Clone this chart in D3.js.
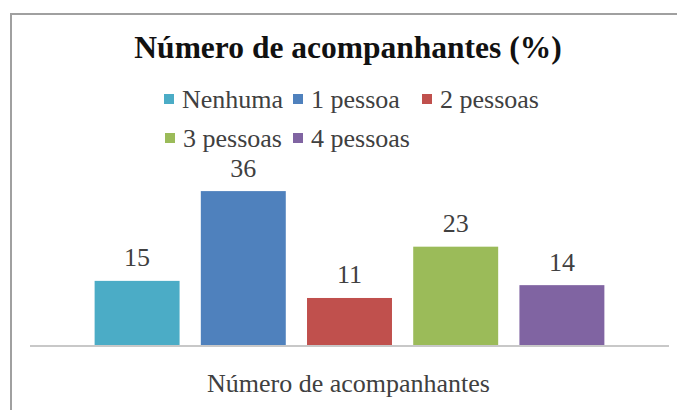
<!DOCTYPE html>
<html>
<head>
<meta charset="utf-8">
<script src="https://cdn.jsdelivr.net/npm/d3@7"></script>
<style>
  html, body { margin: 0; background: #fff; overflow: hidden; }
  svg { display: block; }
</style>
</head>
<body>
<div id="chart"></div>
<script>
const categories = ["Nenhuma", "1 pessoa", "2 pessoas", "3 pessoas", "4 pessoas"];
const values = [15, 36, 11, 23, 14];
const colors = ["#4BACC6", "#4F81BD", "#C0504D", "#9BBB59", "#8064A2"];
const titleText = "Número de acompanhantes (%)";
const axisTitle = "Número de acompanhantes";

const W = 677, H = 410;
const serif = "'Liberation Serif', 'DejaVu Serif', 'Times New Roman', serif";

const svg = d3.select("#chart").append("svg")
  .attr("width", W)
  .attr("height", H)
  .attr("font-family", serif);

// outer frame: only left and top edges are inside the picture
svg.append("path")
  .attr("d", `M11,${H} V14 H${W}`)
  .attr("fill", "none")
  .attr("stroke", "#a0a0a0")
  .attr("stroke-width", 2);

svg.append("text")
  .attr("x", 348).attr("y", 58)
  .attr("text-anchor", "middle")
  .style("font-size", "31.5px")
  .style("font-weight", "bold")
  .attr("fill", "#111")
  .text(titleText);

// legend, two rows like Excel
const legendRows = [
  [{ i: 0, x: 164 }, { i: 1, x: 293 }, { i: 2, x: 422 }],
  [{ i: 3, x: 165 }, { i: 4, x: 293 }]
];
const legendY = [108, 147];
legendRows.forEach((row, r) => {
  const g = svg.append("g");
  row.forEach(d => {
    g.append("rect")
      .attr("x", d.x).attr("y", legendY[r] - 14)
      .attr("width", 10).attr("height", 10)
      .attr("fill", colors[d.i]);
    g.append("text")
      .attr("x", d.x + 18).attr("y", legendY[r])
      .style("font-size", "26px")
      .attr("fill", "#404040")
      .text(categories[d.i]);
  });
});

const x = d3.scaleBand()
  .domain(categories)
  .range([84, 615])
  .paddingInner(0.2)
  .paddingOuter(0.1);

const y = d3.scaleLinear()
  .domain([0, 40])
  .range([345, 174]);

svg.selectAll(".bar")
  .data(values)
  .enter().append("rect")
  .attr("class", "bar")
  .attr("x", (d, i) => x(categories[i]))
  .attr("y", d => y(d))
  .attr("width", x.bandwidth())
  .attr("height", d => y(0) - y(d))
  .attr("fill", (d, i) => colors[i]);

svg.selectAll(".lbl")
  .data(values)
  .enter().append("text")
  .attr("class", "lbl")
  .attr("x", (d, i) => x(categories[i]) + x.bandwidth() / 2)
  .attr("y", d => y(d) - 14.5)
  .attr("text-anchor", "middle")
  .style("font-size", "26px")
  .attr("fill", "#404040")
  .text(d => d);

// category axis line
svg.append("line")
  .attr("x1", 30).attr("x2", 669)
  .attr("y1", 346).attr("y2", 346)
  .attr("stroke", "#c8c8c8")
  .attr("stroke-width", 2);

svg.append("text")
  .attr("x", 348.5).attr("y", 392)
  .attr("text-anchor", "middle")
  .style("font-size", "26px")
  .attr("fill", "#404040")
  .text(axisTitle);
</script>
</body>
</html>
